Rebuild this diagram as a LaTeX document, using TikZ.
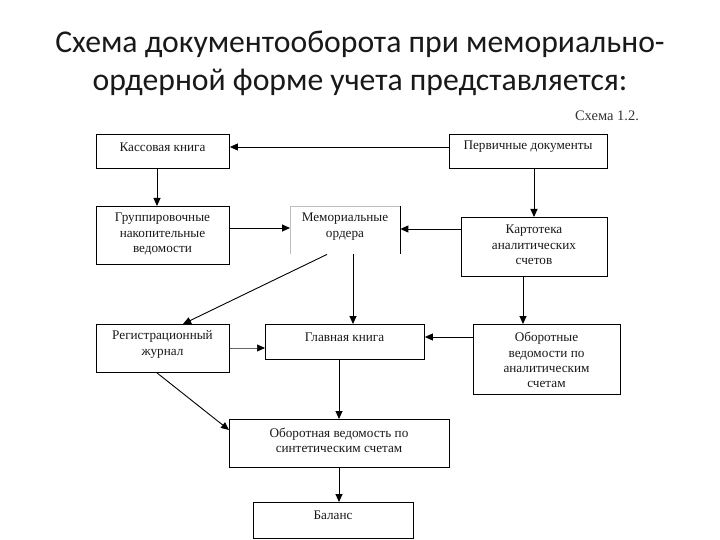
\documentclass[tikz,border=0pt]{standalone}
\usepackage{fontspec}
\setmainfont{Liberation Serif}
\newfontfamily\titlefont{Carlito}
\usetikzlibrary{arrows.meta}
\begin{document}
\begin{tikzpicture}[x=1pt,y=-1pt,
  box/.style={draw, line width=0.9pt, rectangle, inner sep=0pt, anchor=north west},
  lbl/.style={font=\fontsize{13.2}{15.3}\selectfont, align=center, inner sep=0pt, text=black!90},
  arr/.style={-{Triangle[length=8pt,width=7pt]}, line width=0.9pt},
  thinarr/.style={-{Triangle[length=8pt,width=7pt,color=black]}, line width=0.6pt, draw=black!60},
]
\useasboundingbox (0,0) rectangle (720,540);
\fill[white] (0,0) rectangle (720,540);
\node[font=\titlefont\fontsize{31.7}{38}\selectfont, align=center, text=black!90] (title) at (360,63) {Схема документооборота при мемориально-\\ордерной форме учета представляется:};
\node[font=\fontsize{14.5}{17}\selectfont, text=black!80] (sch) at (607,116) {Схема 1.2.};

\node[box, minimum width=133pt, minimum height=34pt] (kk) at (96,134) {};
\node[lbl] (tkk) at (162.5,147) {Кассовая книга};
\node[box, minimum width=158pt, minimum height=34pt] (pd) at (449,134) {};
\node[lbl] (tpd) at (528,147) {Первичные документы};
\node[box, minimum width=133pt, minimum height=58pt] (gr) at (96,206) {};
\node[lbl] (tgr) at (162.5,234) {Группировочные\\накопительные\\ведомости};
\node[inner sep=0pt, minimum width=110pt, minimum height=48pt, anchor=north west] (mo) at (290,206) {};
\draw[gray!50, line width=0.8pt] (mo.south west) -- (mo.north west) -- (mo.north east);
\draw[line width=0.9pt] (mo.north east) -- (mo.south east);
\node[lbl] (tmo) at (345,226.5) {Мемориальные\\ордера};
\node[box, minimum width=146pt, minimum height=59pt] (kt) at (461,217) {};
\node[lbl] (tkt) at (534,245) {Картотека\\аналитических\\счетов};
\node[box, minimum width=133pt, minimum height=48pt] (rj) at (96,324) {};
\node[lbl] (trj) at (162.5,344.5) {Регистрационный\\журнал};
\node[box, minimum width=159pt, minimum height=35pt] (gk) at (265,324) {};
\node[lbl] (tgk) at (344.5,337) {Главная книга};
\node[box, minimum width=147pt, minimum height=70pt] (ov) at (473,324) {};
\node[lbl] (tov) at (546.5,360) {Оборотные\\ведомости по\\аналитическим\\счетам};
\node[box, minimum width=220pt, minimum height=48pt] (os) at (229,419) {};
\node[lbl] (tos) at (339,440.5) {Оборотная ведомость по\\синтетическим счетам};
\node[box, minimum width=160pt, minimum height=36pt] (bal) at (253,502) {};
\node[lbl] (tbal) at (333,515) {Баланс};

\draw[arr] (pd.west |- 0,147) -- (kk.east |- 0,147);
\draw[arr] (kk.south -| 157,0) -- (gr.north -| 157,0);
\draw[arr] (pd.south -| 534,0) -- (kt.north -| 534,0);
\draw[arr] (gr.east |- 0,228) -- (mo.west |- 0,228);
\draw[arr] (kt.west |- 0,229) -- (mo.east |- 0,229);
\draw[arr] (mo.south -| 327,0) -- (rj.north -| 183,0);
\draw[arr] (mo.south -| 353,0) -- (gk.north -| 353,0);
\draw[thinarr] (rj.east |- 0,348) -- (gk.west |- 0,348);
\draw[arr] (kt.south -| 523,0) -- (ov.north -| 523,0);
\draw[arr] (ov.west |- 0,337) -- (gk.east |- 0,337);
\draw[arr] (gk.south -| 339,0) -- (os.north -| 339,0);
\draw[arr] (rj.south -| 157,0) -- (os.west |- 0,430);
\draw[arr] (os.south -| 339,0) -- (bal.north -| 339,0);
\end{tikzpicture}
\end{document}
